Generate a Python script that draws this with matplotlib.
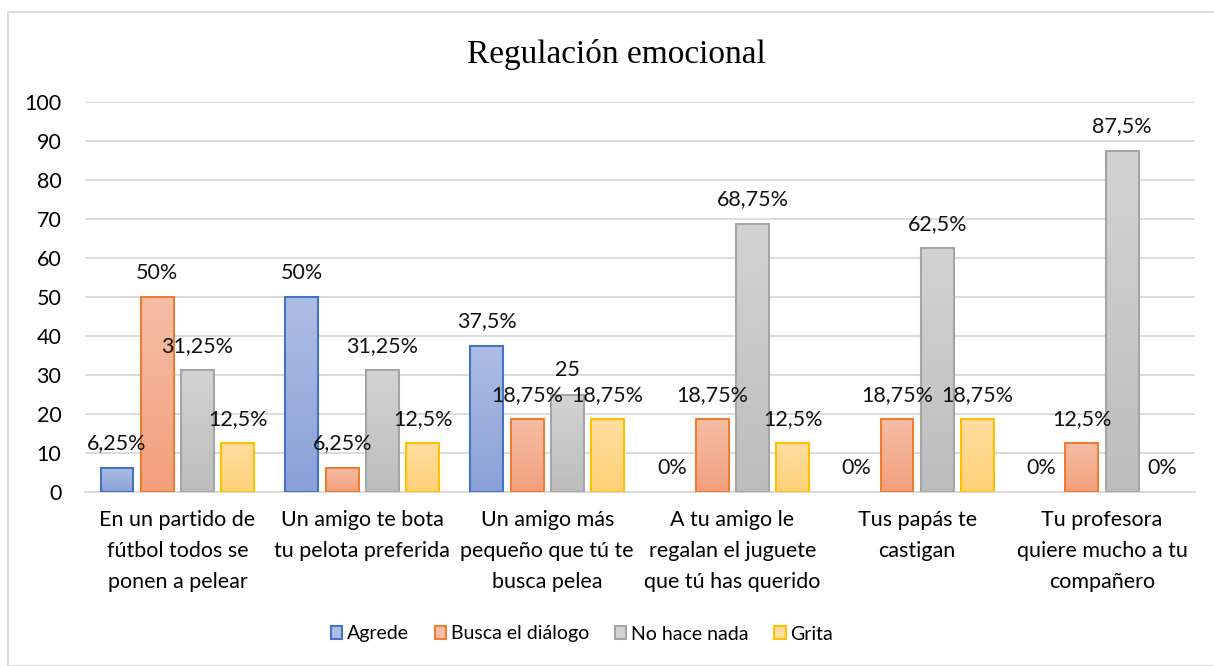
import numpy as np
import matplotlib
matplotlib.use("Agg")
import matplotlib.pyplot as plt
from matplotlib.colors import LinearSegmentedColormap
from matplotlib.patches import Rectangle

categories = [
    "En un partido de\nfútbol todos se\nponen a pelear",
    "Un amigo te bota\ntu pelota preferida",
    "Un amigo más\npequeño que tú te\nbusca pelea",
    "A tu amigo le\nregalan el juguete\nque tú has querido",
    "Tus papás te\ncastigan",
    "Tu profesora\nquiere mucho a tu\ncompañero",
]
series = ["Agrede", "Busca el diálogo", "No hace nada", "Grita"]
agrede = [6.25, 50, 37.5, 0, 0, 0]
busca = [50, 6.25, 18.75, 18.75, 18.75, 12.5]
nada = [31.25, 31.25, 25, 68.75, 62.5, 87.5]
grita = [12.5, 12.5, 18.75, 12.5, 18.75, 0]
labels_agrede = ["6,25%", "50%", "37,5%", "0%", "0%", "0%"]
labels_busca = ["50%", "6,25%", "18,75%", "18,75%", "18,75%", "12,5%"]
labels_nada = ["31,25%", "31,25%", "25", "68,75%", "62,5%", "87,5%"]
labels_grita = ["12,5%", "12,5%", "18,75%", "12,5%", "18,75%", "0%"]

values = [agrede, busca, nada, grita]
labels = [labels_agrede, labels_busca, labels_nada, labels_grita]
# (top colour, bottom colour, edge colour)
colors = [
    ("#aebde4", "#8ba1d7", "#4472c4"),
    ("#f6bea6", "#f29f7c", "#ed7d31"),
    ("#d3d3d3", "#bdbdbd", "#a5a5a5"),
    ("#ffdea0", "#ffd178", "#ffc000"),
]

plt.rcParams["font.family"] = ["Lato", "DejaVu Sans"]
fs = 15.5

fig = plt.figure(figsize=(12.14, 6.66), dpi=100)
ax = fig.add_axes([0.070, 0.261, 0.914, 0.586])

x = np.arange(len(categories))
width = 0.178
step = 0.218

grad = np.linspace(0, 1, 100).reshape(-1, 1)
for i, (vals, labs, (ctop, cbot, cedge)) in enumerate(zip(values, labels, colors)):
    pos = x + (i - 1.5) * step
    lw = [1.5 if v > 0 else 0 for v in vals]
    bars = ax.bar(pos, vals, width, color="none", edgecolor=cedge,
                  linewidth=lw, label=series[i], zorder=3)
    cmap = LinearSegmentedColormap.from_list("g%d" % i, [cbot, ctop])
    for b, v, lab in zip(bars, vals, labs):
        if v > 0:
            im = ax.imshow(grad, cmap=cmap, aspect="auto", origin="lower",
                           extent=[b.get_x(), b.get_x() + width, 0, v], zorder=2)
            im.set_clip_path(b)
        ax.annotate(lab, (b.get_x() + width / 2, v), xytext=(0, 17.5),
                    textcoords="offset points", ha="center", va="center",
                    fontsize=fs, color="#111111", zorder=4)

ax.set_xlim(-0.5, len(categories) - 0.5)
ax.set_ylim(0, 100)
ax.set_yticks(range(0, 101, 10))
ax.set_xticks(x)
ax.set_xticklabels(categories, fontsize=fs, linespacing=1.68)
ax.tick_params(axis="y", labelsize=fs, length=0, pad=17)
ax.tick_params(axis="x", length=0, pad=13)
ax.grid(axis="y", color="#d9d9d9", linewidth=1.3, zorder=0)
for s in ["top", "right", "left"]:
    ax.spines[s].set_visible(False)
ax.spines["bottom"].set_color("#d9d9d9")
ax.spines["bottom"].set_linewidth(1.3)

handles = []
for i, (ctop, cbot, cedge) in enumerate(colors):
    handles.append(Rectangle((0, 0), 1, 1, facecolor=ctop, edgecolor=cedge,
                             linewidth=1.5))
fig.legend(handles, series, loc="center", bbox_to_anchor=(582 / 1214, 1 - 634 / 666),
           ncol=4, frameon=False, fontsize=14, handlelength=0.6, handleheight=0.6,
           handletextpad=0.25, columnspacing=1.3)

fig.text(616 / 1214, 1 - 54 / 666, "Regulación emocional", ha="center", va="center",
         fontsize=24, family="Liberation Serif")

fig.patches.append(Rectangle((8 / 1214, 0), 1.1, 1 - 12 / 666, transform=fig.transFigure,
                             fill=False, edgecolor="#d9d9d9", linewidth=1.3))

fig.savefig("out.png", dpi=100)
